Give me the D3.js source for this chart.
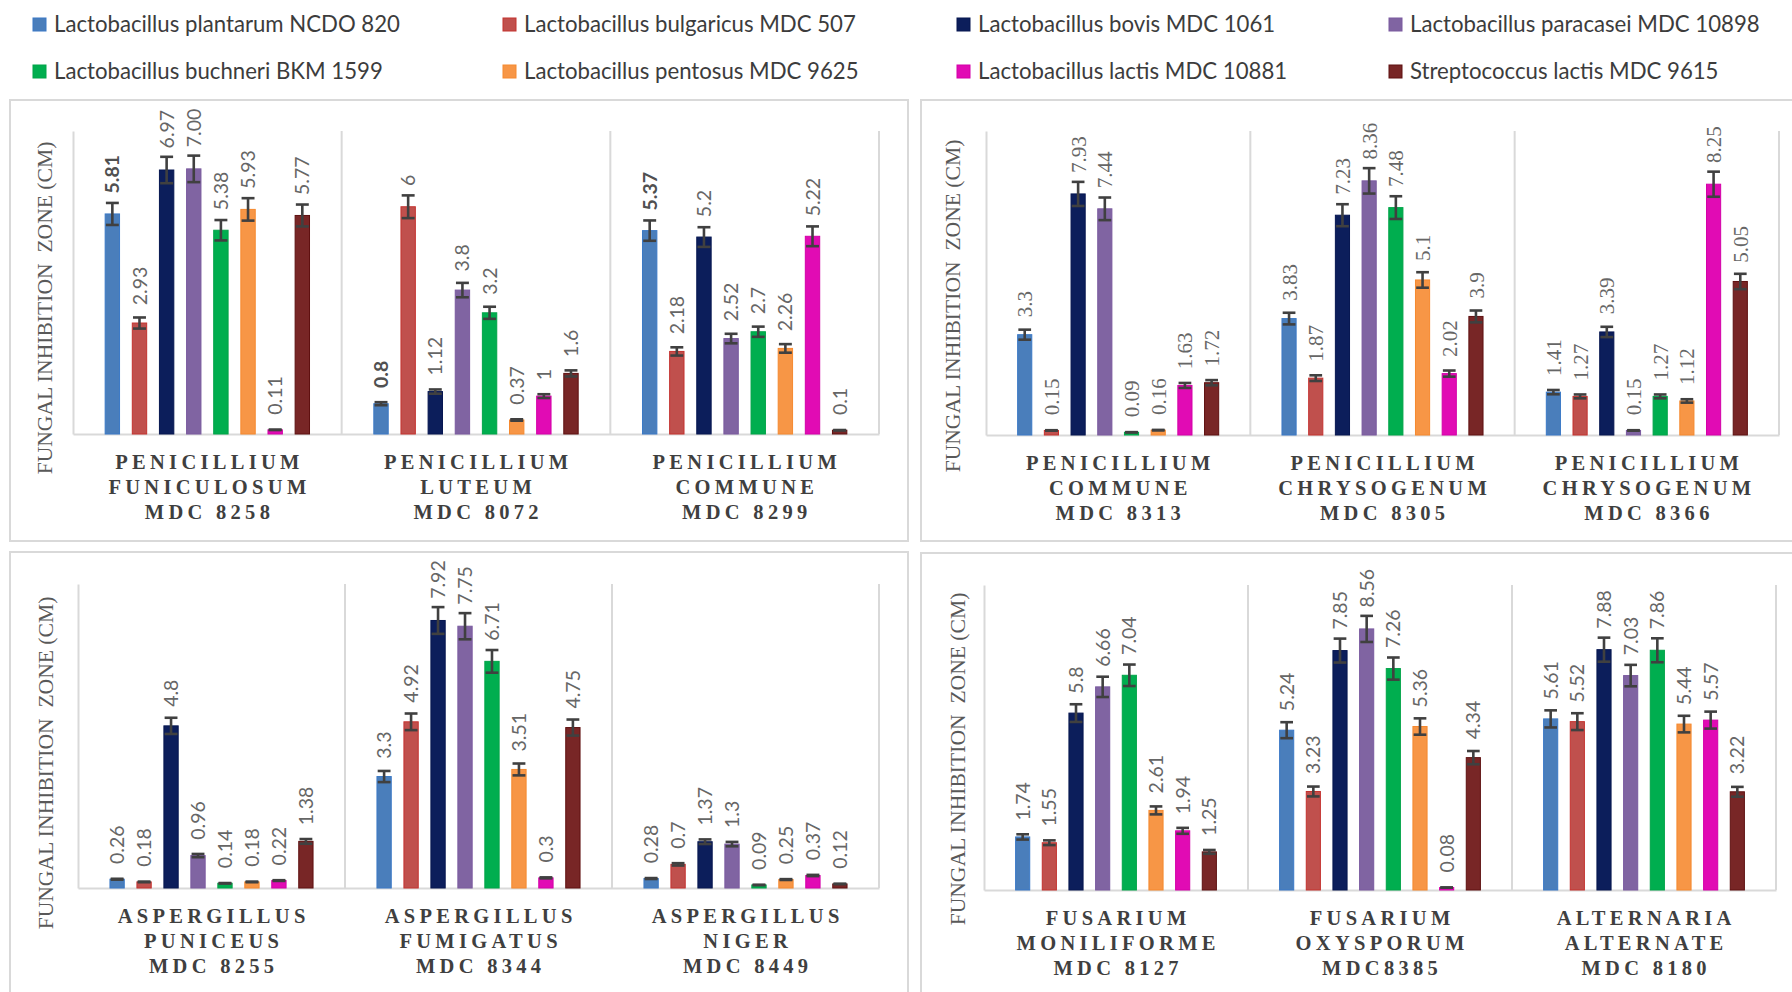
<!DOCTYPE html>
<html>
<head>
<meta charset="utf-8">
<script src="https://cdn.jsdelivr.net/npm/d3@7"></script>
<style>
  html, body { margin: 0; padding: 0; background: #ffffff; }
  svg { display: block; }
</style>
</head>
<body>
<svg id="chart" width="1792" height="992"></svg>
<script>
// ---- Data -----------------------------------------------------------------
const strains = [
  "Lactobacillus plantarum NCDO 820",
  "Lactobacillus bulgaricus MDC 507",
  "Lactobacillus bovis MDC 1061",
  "Lactobacillus paracasei MDC 10898",
  "Lactobacillus buchneri BKM 1599",
  "Lactobacillus pentosus MDC 9625",
  "Lactobacillus lactis MDC 10881",
  "Streptococcus lactis MDC 9615"
];

// Fungal test cultures (three label lines each) and inhibition zones (cm),
// one row per fungus, one entry per strain in the order above.
const fungiPanelA = [
  ["PENICILLIUM", "FUNICULOSUM", "MDC 8258"],
  ["PENICILLIUM", "LUTEUM", "MDC 8072"],
  ["PENICILLIUM", "COMMUNE", "MDC 8299"]
];
const zonesPanelA = [
  ["5.81", "2.93", "6.97", "7.00", "5.38", "5.93", "0.11", "5.77"],
  ["0.8", "6", "1.12", "3.8", "3.2", "0.37", "1", "1.6"],
  ["5.37", "2.18", "5.2", "2.52", "2.7", "2.26", "5.22", "0.1"]
];

const fungiPanelB = [
  ["PENICILLIUM", "COMMUNE", "MDC 8313"],
  ["PENICILLIUM", "CHRYSOGENUM", "MDC 8305"],
  ["PENICILLIUM", "CHRYSOGENUM", "MDC 8366"]
];
const zonesPanelB = [
  ["3.3", "0.15", "7.93", "7.44", "0.09", "0.16", "1.63", "1.72"],
  ["3.83", "1.87", "7.23", "8.36", "7.48", "5.1", "2.02", "3.9"],
  ["1.41", "1.27", "3.39", "0.15", "1.27", "1.12", "8.25", "5.05"]
];

const fungiPanelC = [
  ["ASPERGILLUS", "PUNICEUS", "MDC 8255"],
  ["ASPERGILLUS", "FUMIGATUS", "MDC 8344"],
  ["ASPERGILLUS", "NIGER", "MDC 8449"]
];
const zonesPanelC = [
  ["0.26", "0.18", "4.8", "0.96", "0.14", "0.18", "0.22", "1.38"],
  ["3.3", "4.92", "7.92", "7.75", "6.71", "3.51", "0.3", "4.75"],
  ["0.28", "0.7", "1.37", "1.3", "0.09", "0.25", "0.37", "0.12"]
];

const fungiPanelD = [
  ["FUSARIUM", "MONILIFORME", "MDC 8127"],
  ["FUSARIUM", "OXYSPORUM", "MDC8385"],
  ["ALTERNARIA", "ALTERNATE", "MDC 8180"]
];
const zonesPanelD = [
  ["1.74", "1.55", "5.8", "6.66", "7.04", "2.61", "1.94", "1.25"],
  ["5.24", "3.23", "7.85", "8.56", "7.26", "5.36", "0.08", "4.34"],
  ["5.61", "5.52", "7.88", "7.03", "7.86", "5.44", "5.57", "3.22"]
];

// Value-axis maxima of the four charts (A, B, C, D)
const axisMax = [8, 10, 9, 10];
const yAxisTitle = "FUNGAL INHIBITION  ZONE (CM)";
// Error bars show a fixed percentage of each value
const errorPercent = 5;

// ---- Styles ---------------------------------------------------------------
const fillColors   = ["#4a7ebb", "#c0504d", "#0c1e5b", "#8064a2", "#00ae4f", "#f79646", "#e10bb4", "#782626"];
const strokeColors = ["#3b79c6", "#c4322f", "#061650", "#7a5a9f", "#00a448", "#f5892f", "#d400a8", "#5e1010"];

const svg = d3.select("#chart");
svg.append("rect").attr("width", 1792).attr("height", 992).attr("fill", "#ffffff");

// ---- Legend ---------------------------------------------------------------
const legendCols = [33, 503, 957, 1389];
const legendRows = [18, 65];
const legend = svg.append("g").attr("class", "legend");
const legendItem = legend.selectAll("g")
  .data(strains)
  .join("g")
  .attr("transform", (d, i) => `translate(${legendCols[i % 4]},${legendRows[Math.floor(i / 4)]})`);
legendItem.append("rect")
  .attr("width", 13).attr("height", 13)
  .attr("fill", (d, i) => fillColors[i])
  .attr("stroke", (d, i) => strokeColors[i]).attr("stroke-width", 1);
legendItem.append("text")
  .attr("x", 21).attr("y", 14)
  .attr("font-family", "Lato, 'Noto Sans', sans-serif")
  .attr("font-size", 22.2)
  .attr("fill", "#3c3c3c")
  .text(d => d);

// ---- Panels ---------------------------------------------------------------
const panels = [
  { fungi: fungiPanelA, zones: zonesPanelA, yMax: axisMax[0],
    box: [10, 100, 898, 441], plot: [73, 131, 879, 434], title: [44, 308],
    serifLabels: false, boldSeries: 0 },
  { fungi: fungiPanelB, zones: zonesPanelB, yMax: axisMax[1],
    box: [921, 100, 898, 441], plot: [986, 131, 1779, 435], title: [952, 306],
    serifLabels: true, boldSeries: -1 },
  { fungi: fungiPanelC, zones: zonesPanelC, yMax: axisMax[2],
    box: [10, 552, 898, 441], plot: [78, 584, 879, 888], title: [45, 763],
    serifLabels: false, boldSeries: -1 },
  { fungi: fungiPanelD, zones: zonesPanelD, yMax: axisMax[3],
    box: [921, 553, 898, 441], plot: [984, 585, 1776, 890], title: [957, 759],
    serifLabels: false, boldSeries: -1 }
];

const gridColor = "#d9d9d9";
const errColor = "#404040";
const catSpacing = 4.3;

panels.forEach(p => {
  const g = svg.append("g");
  const [left, top, right, base] = p.plot;

  // Chart frame
  g.append("rect")
    .attr("x", p.box[0]).attr("y", p.box[1])
    .attr("width", p.box[2]).attr("height", p.box[3])
    .attr("fill", "#ffffff").attr("stroke", gridColor).attr("stroke-width", 2);

  const x0 = d3.scaleBand().domain(d3.range(p.fungi.length)).range([left, right]);
  const x1 = d3.scaleBand().domain(d3.range(strains.length))
    .range([0, x0.bandwidth()]).paddingInner(0.47).paddingOuter(1.185);
  const y = d3.scaleLinear().domain([0, p.yMax]).range([base, top]);

  // Value axis: a plain line without ticks
  g.append("g")
    .attr("transform", `translate(${left},0)`)
    .call(d3.axisLeft(y).tickValues([]).tickSizeOuter(0))
    .call(a => a.select(".domain").attr("stroke", gridColor).attr("stroke-width", 2));

  // Category axis baseline
  g.append("g")
    .attr("transform", `translate(0,${base})`)
    .call(d3.axisBottom(x0).tickValues([]).tickSizeOuter(0))
    .call(a => a.select(".domain").attr("stroke", gridColor).attr("stroke-width", 2.2));

  // Group separators (between fungi and at the right end)
  const bounds = d3.range(1, p.fungi.length + 1).map(i => x0(i - 1) + x0.bandwidth());
  g.selectAll("line.sep").data(bounds).join("line")
    .attr("class", "sep")
    .attr("x1", d => d).attr("x2", d => d)
    .attr("y1", top).attr("y2", base)
    .attr("stroke", gridColor).attr("stroke-width", 2);

  // Flatten to one record per bar
  const bars = [];
  p.zones.forEach((row, gi) => row.forEach((txt, si) => {
    bars.push({ gi, si, txt, v: +txt });
  }));

  const cx = d => x0(d.gi) + x1(d.si) + x1.bandwidth() / 2;
  const errPx = d => y(d.v) - y(d.v * (1 + errorPercent / 100));

  g.selectAll("rect.bar").data(bars).join("rect")
    .attr("class", "bar")
    .attr("x", d => x0(d.gi) + x1(d.si))
    .attr("width", x1.bandwidth())
    .attr("y", d => y(d.v))
    .attr("height", d => base - y(d.v))
    .attr("fill", d => fillColors[d.si])
    .attr("stroke", d => strokeColors[d.si])
    .attr("stroke-width", 1);

  // Error bars
  const capW = x1.bandwidth() * 0.9;
  const eb = g.selectAll("g.err").data(bars).join("g").attr("class", "err")
    .attr("stroke", errColor).attr("stroke-width", 2.6);
  eb.append("line")
    .attr("x1", cx).attr("x2", cx)
    .attr("y1", d => y(d.v * (1 + errorPercent / 100)))
    .attr("y2", d => y(d.v * (1 - errorPercent / 100)));
  eb.append("line")
    .attr("x1", d => cx(d) - capW / 2).attr("x2", d => cx(d) + capW / 2)
    .attr("y1", d => y(d.v * (1 + errorPercent / 100)))
    .attr("y2", d => y(d.v * (1 + errorPercent / 100)));
  eb.append("line")
    .attr("x1", d => cx(d) - capW / 2).attr("x2", d => cx(d) + capW / 2)
    .attr("y1", d => y(d.v * (1 - errorPercent / 100)))
    .attr("y2", d => y(d.v * (1 - errorPercent / 100)));

  // Value labels, rotated, above each bar
  g.selectAll("text.val").data(bars).join("text")
    .attr("class", "val")
    .attr("transform", d => `translate(${cx(d)},${y(d.v) - 15 - 0.5 * errPx(d)}) rotate(-90)`)
    .attr("dy", "0.36em")
    .attr("font-family", p.serifLabels ? "'Liberation Serif', 'Times New Roman', serif" : "Lato, 'Noto Sans', sans-serif")
    .attr("font-size", p.serifLabels ? 21 : 19.5)
    .attr("font-weight", d => d.si === p.boldSeries ? "bold" : "normal")
    .attr("fill", d => d.si === p.boldSeries ? "#505050" : "#666666")
    .text(d => d.txt);

  // Category labels (three lines each)
  const cat = g.selectAll("text.cat").data(p.fungi).join("text")
    .attr("class", "cat")
    .attr("font-family", "'Liberation Serif', 'Times New Roman', serif")
    .attr("font-weight", "bold")
    .attr("font-size", 20.5)
    .attr("letter-spacing", catSpacing)
    .attr("fill", "#3f3f3f")
    .attr("text-anchor", "middle");
  cat.selectAll("tspan").data((d, i) => d.map(line => ({ line, i }))).join("tspan")
    .attr("x", d => x0(d.i) + x0.bandwidth() / 2 + catSpacing / 2)
    .attr("y", (d, k) => base + 35 + k * 25)
    .text(d => d.line);

  // Value-axis title
  g.append("text")
    .attr("transform", `translate(${p.title[0]},${p.title[1]}) rotate(-90)`)
    .attr("text-anchor", "middle")
    .attr("dy", "0.35em")
    .attr("font-family", "'Liberation Serif', 'Times New Roman', serif")
    .attr("font-size", 21.6)
    .attr("fill", "#595959")
    .style("white-space", "pre")
    .text(yAxisTitle);
});
</script>
</body>
</html>
